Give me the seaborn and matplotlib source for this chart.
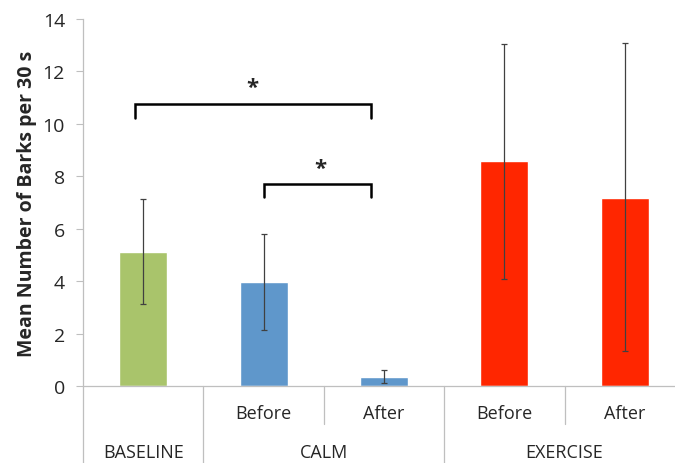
import matplotlib
matplotlib.use("Agg")
import matplotlib.pyplot as plt
import seaborn as sns
import pandas as pd
from matplotlib.lines import Line2D

# Data
conditions = ["Baseline", "Calm Before", "Calm After", "Exercise Before", "Exercise After"]
sub_labels = ["", "Before", "After", "Before", "After"]
groups = ["BASELINE", "CALM", "EXERCISE"]
means = [5.1, 3.95, 0.33, 8.57, 7.17]
err_low = [3.12, 2.15, 0.12, 4.08, 1.32]
err_high = [7.12, 5.80, 0.61, 13.05, 13.08]
colors = ["#A9C46B", "#5F97CB", "#5F97CB", "#FF2600", "#FF2600"]
y_ticks = [0, 2, 4, 6, 8, 10, 12, 14]

df = pd.DataFrame({"condition": conditions, "mean": means})

sns.set_theme(style="white")
plt.rcParams["font.family"] = ["Open Sans", "DejaVu Sans"]

fig = plt.figure(figsize=(6.75, 4.64), dpi=100)
ax = fig.add_axes([83 / 675, 77 / 464, 602 / 675, 367 / 464])

sns.barplot(data=df, x="condition", y="mean", hue="condition", palette=colors,
            legend=False, width=0.4, saturation=1, errorbar=None, ax=ax)

xs = list(range(len(means)))
yerr = [[m - lo for m, lo in zip(means, err_low)], [hi - m for m, hi in zip(means, err_high)]]
ax.errorbar(xs, means, yerr=yerr, fmt="none", ecolor="#404040", elinewidth=0.9,
            capsize=2.5, capthick=0.9, zorder=5)

ax.set_xlim(-0.5, 4.5)
ax.set_ylim(0, 14)
ax.set_yticks(y_ticks)
ax.set_yticklabels([str(t) for t in y_ticks], fontsize=14)
ax.tick_params(axis="y", which="both", left=True, length=5, width=0.8, color="#BFBFBF", pad=8)
ax.set_xticks([])
ax.set_xlabel("")
ax.set_ylabel("Mean Number of Barks per 30 s", fontsize=14, fontweight="bold", labelpad=4)

for s in ["top", "right"]:
    ax.spines[s].set_visible(False)
for s in ["left", "bottom"]:
    ax.spines[s].set_color("#BFBFBF")
    ax.spines[s].set_linewidth(0.9)

# Category separators below the axis (x in data, y in axes fraction)
trans = ax.get_xaxis_transform()
full_sep = [-0.5, 0.5, 2.5]
short_sep = [1.5, 3.5]
for xv in full_sep:
    ax.add_line(Line2D([xv, xv], [0, -77 / 367], transform=trans, color="#BFBFBF",
                       lw=0.9, clip_on=False))
for xv in short_sep:
    ax.add_line(Line2D([xv, xv], [0, -38 / 367], transform=trans, color="#BFBFBF",
                       lw=0.9, clip_on=False))

for xv, lab in zip(xs, sub_labels):
    if lab:
        ax.text(xv, -27 / 367, lab, transform=trans, ha="center", va="center", fontsize=13)

group_x = [0, 1.5, 3.5]
for gx, g in zip(group_x, groups):
    ax.text(gx, -66 / 367, g, transform=trans, ha="center", va="center", fontsize=13)

# Significance brackets
def bracket(x0, x1, ytop, ybot, star_x, star_y):
    ax.plot([x0, x0, x1, x1], [ybot, ytop, ytop, ybot], color="black", lw=1.8,
            solid_joinstyle="miter", zorder=6)
    ax.text(star_x, star_y, "*", ha="center", va="center", fontsize=16, fontweight="bold")

bracket(-0.07, 1.89, 10.74, 10.23, 0.91, 11.4)
bracket(1.0, 1.89, 7.71, 7.21, 1.47, 8.3)

fig.savefig("out.png", dpi=100)
